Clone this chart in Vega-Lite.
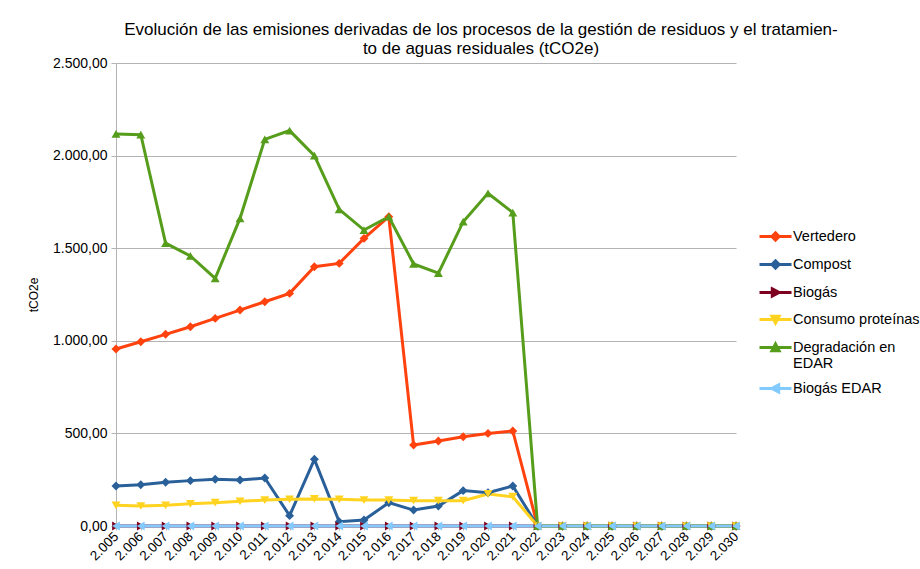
{
  "$schema": "https://vega.github.io/schema/vega-lite/v6.json",
  "width": 620,
  "height": 463,
  "autosize": "none",
  "padding": {"left": 116, "top": 63, "right": 184, "bottom": 43},
  "background": "white",
  "title": {
    "text": ["Evolución de las emisiones derivadas de los procesos de la gestión de residuos y el tratamien-", "to de aguas residuales (tCO2e)"],
    "font": "Liberation Sans",
    "fontSize": 17,
    "fontWeight": "normal",
    "color": "#000000",
    "anchor": "middle",
    "dx": 55,
    "offset": -2,
    "lineHeight": 19.5
  },
  "data": {
    "values": [
      {"year": 2005, "Vertedero": 956, "Compost": 216, "Biogás": 0, "Consumo proteínas": 112, "Degradación en EDAR": 2117, "Biogás EDAR": 0},
      {"year": 2006, "Vertedero": 995, "Compost": 223, "Biogás": 0, "Consumo proteínas": 108, "Degradación en EDAR": 2113, "Biogás EDAR": 0},
      {"year": 2007, "Vertedero": 1035, "Compost": 236, "Biogás": 0, "Consumo proteínas": 112, "Degradación en EDAR": 1527, "Biogás EDAR": 0},
      {"year": 2008, "Vertedero": 1076, "Compost": 245, "Biogás": 0, "Consumo proteínas": 120, "Degradación en EDAR": 1458, "Biogás EDAR": 0},
      {"year": 2009, "Vertedero": 1121, "Compost": 252, "Biogás": 0, "Consumo proteínas": 126, "Degradación en EDAR": 1337, "Biogás EDAR": 0},
      {"year": 2010, "Vertedero": 1166, "Compost": 248, "Biogás": 0, "Consumo proteínas": 133, "Degradación en EDAR": 1661, "Biogás EDAR": 0},
      {"year": 2011, "Vertedero": 1211, "Compost": 259, "Biogás": 0, "Consumo proteínas": 140, "Degradación en EDAR": 2088, "Biogás EDAR": 0},
      {"year": 2012, "Vertedero": 1256, "Compost": 56, "Biogás": 0, "Consumo proteínas": 144, "Degradación en EDAR": 2135, "Biogás EDAR": 0},
      {"year": 2013, "Vertedero": 1400, "Compost": 360, "Biogás": 0, "Consumo proteínas": 146, "Degradación en EDAR": 2000, "Biogás EDAR": 0},
      {"year": 2014, "Vertedero": 1418, "Compost": 23, "Biogás": 0, "Consumo proteínas": 144, "Degradación en EDAR": 1710, "Biogás EDAR": 0},
      {"year": 2015, "Vertedero": 1553, "Compost": 32, "Biogás": 0, "Consumo proteínas": 140, "Degradación en EDAR": 1598, "Biogás EDAR": 0},
      {"year": 2016, "Vertedero": 1670, "Compost": 126, "Biogás": 0, "Consumo proteínas": 140, "Degradación en EDAR": 1670, "Biogás EDAR": 0},
      {"year": 2017, "Vertedero": 437, "Compost": 86, "Biogás": 0, "Consumo proteínas": 137, "Degradación en EDAR": 1415, "Biogás EDAR": 0},
      {"year": 2018, "Vertedero": 459, "Compost": 108, "Biogás": 0, "Consumo proteínas": 137, "Degradación en EDAR": 1365, "Biogás EDAR": 0},
      {"year": 2019, "Vertedero": 482, "Compost": 191, "Biogás": 0, "Consumo proteínas": 137, "Degradación en EDAR": 1643, "Biogás EDAR": 0},
      {"year": 2020, "Vertedero": 500, "Compost": 180, "Biogás": 0, "Consumo proteínas": 173, "Degradación en EDAR": 1796, "Biogás EDAR": 0},
      {"year": 2021, "Vertedero": 513, "Compost": 216, "Biogás": 0, "Consumo proteínas": 158, "Degradación en EDAR": 1692, "Biogás EDAR": 0},
      {"year": 2022, "Vertedero": 0, "Compost": 0, "Biogás": 0, "Consumo proteínas": 0, "Degradación en EDAR": 0, "Biogás EDAR": 0},
      {"year": 2023, "Vertedero": 0, "Compost": 0, "Biogás": 0, "Consumo proteínas": 0, "Degradación en EDAR": 0, "Biogás EDAR": 0},
      {"year": 2024, "Vertedero": 0, "Compost": 0, "Biogás": 0, "Consumo proteínas": 0, "Degradación en EDAR": 0, "Biogás EDAR": 0},
      {"year": 2025, "Vertedero": 0, "Compost": 0, "Biogás": 0, "Consumo proteínas": 0, "Degradación en EDAR": 0, "Biogás EDAR": 0},
      {"year": 2026, "Vertedero": 0, "Compost": 0, "Biogás": 0, "Consumo proteínas": 0, "Degradación en EDAR": 0, "Biogás EDAR": 0},
      {"year": 2027, "Vertedero": 0, "Compost": 0, "Biogás": 0, "Consumo proteínas": 0, "Degradación en EDAR": 0, "Biogás EDAR": 0},
      {"year": 2028, "Vertedero": 0, "Compost": 0, "Biogás": 0, "Consumo proteínas": 0, "Degradación en EDAR": 0, "Biogás EDAR": 0},
      {"year": 2029, "Vertedero": 0, "Compost": 0, "Biogás": 0, "Consumo proteínas": 0, "Degradación en EDAR": 0, "Biogás EDAR": 0},
      {"year": 2030, "Vertedero": 0, "Compost": 0, "Biogás": 0, "Consumo proteínas": 0, "Degradación en EDAR": 0, "Biogás EDAR": 0}
    ]
  },
  "transform": [
    {"fold": ["Vertedero", "Compost", "Biogás", "Consumo proteínas", "Degradación en EDAR", "Biogás EDAR"], "as": ["serie", "valor"]}
  ],
  "encoding": {
    "x": {
      "field": "year",
      "type": "ordinal",
      "scale": {"type": "point", "padding": 0},
      "axis": {
        "title": null,
        "format": ",d",
        "formatType": "number",
        "labelAngle": -45,
        "labelAlign": "right",
        "labelBaseline": "middle",
        "labelFont": "Liberation Sans",
        "labelFontSize": 13.5,
        "labelColor": "#000000",
        "labelPadding": 4,
        "domainColor": "#b3b3b3",
        "tickColor": "#b3b3b3",
        "tickSize": 4,
        "grid": false
      }
    },
    "y": {
      "field": "valor",
      "type": "quantitative",
      "scale": {"domain": [0, 2500], "nice": false},
      "axis": {
        "title": "tCO2e",
        "titleFont": "Liberation Sans",
        "titleFontSize": 12,
        "titleFontWeight": "normal",
        "titleColor": "#000000",
        "titlePadding": 12,
        "values": [0, 500, 1000, 1500, 2000, 2500],
        "format": ",.2f",
        "labelFont": "Liberation Sans",
        "labelFontSize": 14,
        "labelColor": "#000000",
        "labelPadding": 4,
        "domainColor": "#b3b3b3",
        "tickColor": "#b3b3b3",
        "tickSize": 5,
        "gridColor": "#b3b3b3",
        "gridWidth": 1
      }
    },
    "color": {
      "field": "serie",
      "type": "nominal",
      "scale": {
        "domain": ["Vertedero", "Compost", "Biogás", "Consumo proteínas", "Degradación en EDAR", "Biogás EDAR"],
        "range": ["#ff420e", "#2a6099", "#7e0021", "#ffd320", "#579d1c", "#83caff"]
      },
      "legend": {
        "title": null,
        "orient": "none",
        "legendX": 650,
        "legendY": 164,
        "padding": 0,
        "symbolSize": 256,
        "labelOffset": 8,
        "rowPadding": 7,
        "labelFont": "Liberation Sans",
        "labelFontSize": 14.5,
        "labelColor": "#000000",
        "labelLimit": 200,
        "labelExpr": "datum.label == 'Degradación en EDAR' ? ['Degradación en', 'EDAR'] : datum.label",
        "encode": {
          "symbols": {
            "update": {
              "shape": {"signal": "datum.value == 'Consumo proteínas' ? 'M-2,0H2M-0.45,-0.4H0.45L0,0.45Z' : datum.value == 'Degradación en EDAR' ? 'M-2,0H2M-0.45,0.4H0.45L0,-0.45Z' : datum.value == 'Biogás' ? 'M-2,0H2M-0.4,-0.45L0.45,0L-0.4,0.45Z' : datum.value == 'Biogás EDAR' ? 'M-2,0H2M0.4,-0.45L-0.45,0L0.4,0.45Z' : 'M-2,0H2M0,-0.45L0.45,0L0,0.45L-0.45,0Z'"},
              "stroke": {"scale": "color", "field": "value"},
              "fill": {"scale": "color", "field": "value"},
              "strokeWidth": {"value": 3},
              "opacity": {"value": 1}
            }
          }
        }
      }
    }
  },
  "layer": [
    {
      "mark": {"type": "line", "strokeWidth": 3}
    },
    {
      "transform": [{"filter": {"field": "serie", "oneOf": ["Vertedero", "Compost"]}}],
      "mark": {"type": "point", "filled": true, "size": 80, "opacity": 1, "shape": "diamond"}
    },
    {
      "transform": [{"filter": {"field": "serie", "equal": "Biogás"}}],
      "mark": {"type": "point", "filled": true, "size": 80, "opacity": 1, "shape": "triangle-right"}
    },
    {
      "transform": [{"filter": {"field": "serie", "equal": "Consumo proteínas"}}],
      "mark": {"type": "point", "filled": true, "size": 80, "opacity": 1, "shape": "triangle-down"}
    },
    {
      "transform": [{"filter": {"field": "serie", "equal": "Degradación en EDAR"}}],
      "mark": {"type": "point", "filled": true, "size": 80, "opacity": 1, "shape": "triangle-up"}
    },
    {
      "transform": [{"filter": {"field": "serie", "equal": "Biogás EDAR"}}],
      "mark": {"type": "point", "filled": true, "size": 80, "opacity": 1, "shape": "triangle-left"}
    }
  ],
  "config": {
    "locale": {"number": {"decimal": ",", "thousands": ".", "grouping": [3], "currency": ["", " €"]}},
    "view": {"stroke": null},
    "font": "Liberation Sans"
  }
}
